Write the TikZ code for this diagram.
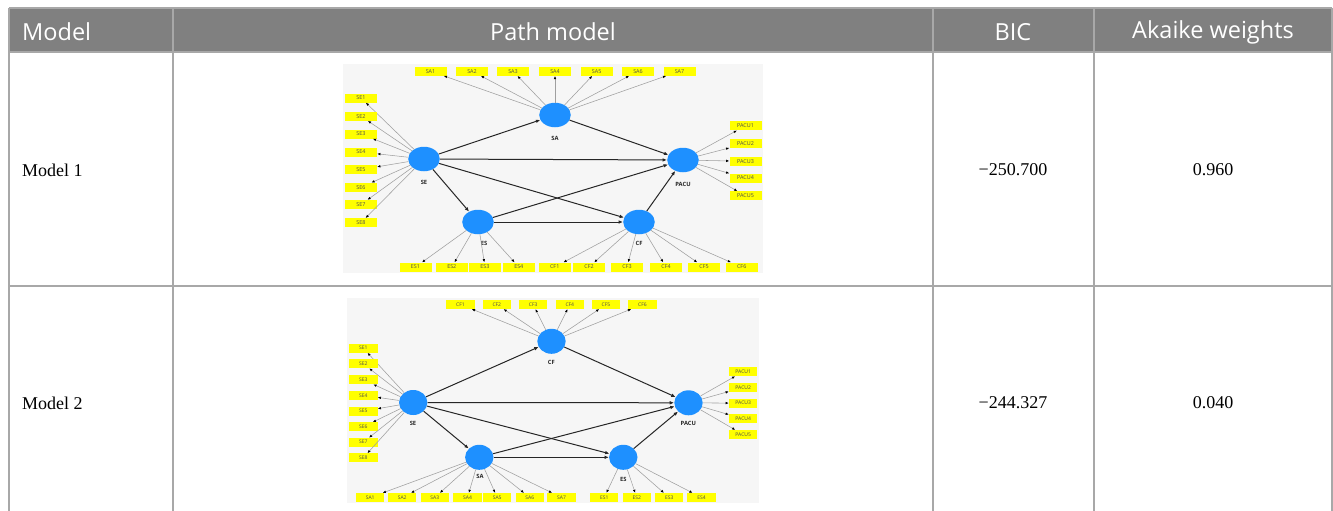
\documentclass[tikz,border=0pt]{standalone}
\usepackage{fontspec}
\setmainfont{Liberation Serif}
\newfontfamily\hdrfont{Open Sans}
\newfontfamily\lblfont{Open Sans}
\usetikzlibrary{arrows.meta,shapes.geometric}
\definecolor{hdrgray}{RGB}{128,128,128}
\definecolor{gridgray}{RGB}{168,168,168}
\definecolor{nodeblue}{RGB}{30,144,255}
\definecolor{bgpanel}{RGB}{246,246,246}
\definecolor{indyellow}{RGB}{255,255,0}
\tikzset{
  hdr/.style={text=white, font=\hdrfont\fontsize{23.5}{23.5}\selectfont, inner sep=0},
  cell/.style={text=black, font=\fontsize{18}{18}\selectfont, inner sep=0},
  lvA/.style={ellipse, fill=nodeblue, minimum width=31.6, minimum height=24.5, inner sep=0},
  lvB/.style={ellipse, fill=nodeblue, minimum width=28.4, minimum height=25, inner sep=0},
  lvlabel/.style={font=\lblfont\bfseries\fontsize{5.8}{5.8}\selectfont, text=black!85, inner sep=0},
  indA/.style={fill=indyellow, minimum width=32, minimum height=9, inner sep=0, font=\lblfont\fontsize{5.4}{5.4}\selectfont, text=black!70},
  indB/.style={fill=indyellow, minimum width=28.4, minimum height=8.8, inner sep=0, font=\lblfont\fontsize{5}{5}\selectfont, text=black!70},
  ld/.style={draw=gray!75, line width=0.55, -{Latex[length=3.2,width=2.6,color=black]}},
  pth/.style={draw=black!85, line width=1.0, -{Latex[length=4.4,width=3.6]}},
}
\begin{document}
\begin{tikzpicture}[x=1pt,y=-1pt]
\useasboundingbox (0,0) rectangle (1333,511);
% ---------- table ----------
\fill[white] (0,0) rectangle (1333,511);
\fill[hdrgray] (9,8) rectangle (1332,52);
\draw[gridgray, line width=1.2] (9,8) -- (1332,8);
\draw[gridgray, line width=1.2] (9,52) -- (1332,52);
\draw[gridgray, line width=1.2] (9,286) -- (1332,286);
\foreach \xx in {9,173,933,1094,1332} {\draw[gridgray, line width=1.2] (\xx,8) -- (\xx,511);}
\node[hdr, anchor=west] (hModel) at (22,32) {Model};
\node[hdr] (hPath) at (553,32) {Path model};
\node[hdr] (hBIC) at (1013,32) {BIC};
\node[hdr] (hAk) at (1213,32) {Akaike weights};
\node[cell, anchor=west] (m1) at (22,170) {Model 1};
\node[cell] (b1) at (1013,170) {−250.700};
\node[cell] (w1) at (1213,170) {0.960};
\node[cell, anchor=west] (m2) at (22,403) {Model 2};
\node[cell] (b2) at (1013,403) {−244.327};
\node[cell] (w2) at (1213,403) {0.040};
% ---------- Model 1 path diagram ----------
\fill[bgpanel] (343,64) rectangle (763,273);
\node[lvA] (aSA) at (555,115) {};
\node[lvA] (aSE) at (424,159) {};
\node[lvA] (aPACU) at (683,160) {};
\node[lvA] (aES) at (478,222) {};
\node[lvA] (aCF) at (639,222) {};
\node[lvlabel] (aSAl) at (555,138) {SA};
\node[lvlabel] (aSEl) at (424,182) {SE};
\node[lvlabel] (aPACUl) at (683,184) {PACU};
\node[lvlabel] (aESl) at (484,243) {ES};
\node[lvlabel] (aCFl) at (639,243) {CF};
\foreach \xx [count=\i] in {430.5,472,513,555,596.7,638,679.5} {
  \node[indA] (aSA\i) at (\xx,71.2) {SA\i};
  \draw[ld] (aSA) -- (aSA\i);}
\foreach \yy [count=\i] in {98,116.2,134,152,169.5,187.3,204.5,222.7} {
  \node[indA] (aSE\i) at (361,\yy) {SE\i};
  \draw[ld] (aSE) -- (aSE\i);}
\foreach \yy [count=\i] in {125.8,143.7,161.3,178,195.8} {
  \node[indA] (aPACU\i) at (745.5,\yy) {PACU\i};
  \draw[ld] (aPACU) -- (aPACU\i);}
\foreach \xx [count=\i] in {415.5,451.8,485,518.8} {
  \node[indA] (aES\i) at (\xx,267) {ES\i};
  \draw[ld] (aES) -- (aES\i);}
\foreach \xx [count=\i] in {554.7,589,627,666,704,741.7} {
  \node[indA] (aCF\i) at (\xx,267) {CF\i};
  \draw[ld] (aCF) -- (aCF\i);}
\draw[pth] (aSE) -- (aSA);
\draw[pth] (aSA) -- (aPACU);
\draw[pth] (aSE) -- (aPACU);
\draw[pth] (aSE) -- (aES);
\draw[pth] (aSE) -- (aCF);
\draw[pth] (aES) -- (aPACU);
\draw[pth] (aES) -- (aCF);
\draw[pth] (aCF) -- (aPACU);
% ---------- Model 2 path diagram ----------
\fill[bgpanel] (347,298) rectangle (759,503);
\node[lvB] (bCF) at (551.5,341.3) {};
\node[lvB] (bSE) at (413.2,402.5) {};
\node[lvB] (bPACU) at (688.5,402.8) {};
\node[lvB] (bSA) at (479.3,457.3) {};
\node[lvB] (bES) at (623.3,457.3) {};
\node[lvlabel] (bCFl) at (551.3,362.7) {CF};
\node[lvlabel] (bSEl) at (413,423.3) {SE};
\node[lvlabel] (bPACUl) at (688.3,423.3) {PACU};
\node[lvlabel] (bSAl) at (480,476.7) {SA};
\node[lvlabel] (bESl) at (623.3,479.3) {ES};
\foreach \xx [count=\i] in {460.5,496.8,533.2,569.8,606,642.5} {
  \node[indB] (bCF\i) at (\xx,304.5) {CF\i};
  \draw[ld] (bCF) -- (bCF\i);}
\foreach \yy [count=\i] in {348.2,363.8,379.8,395.3,411.2,426.7,442.2,457.8} {
  \node[indB] (bSE\i) at (363.3,\yy) {SE\i};
  \draw[ld] (bSE) -- (bSE\i);}
\foreach \yy [count=\i] in {371.7,387.5,403.2,418.8,434.5} {
  \node[indB] (bPACU\i) at (743.2,\yy) {PACU\i};
  \draw[ld] (bPACU) -- (bPACU\i);}
\foreach \xx [count=\i] in {370.2,402.2,434.8,467.5,497.2,529.8,561.5} {
  \node[indB] (bSA\i) at (\xx,497.5) {SA\i};
  \draw[ld] (bSA) -- (bSA\i);}
\foreach \xx [count=\i] in {604.2,636.7,669.2,701.5} {
  \node[indB] (bES\i) at (\xx,497.5) {ES\i};
  \draw[ld] (bES) -- (bES\i);}
\draw[pth] (bSE) -- (bCF);
\draw[pth] (bCF) -- (bPACU);
\draw[pth] (bSE) -- (bPACU);
\draw[pth] (bSE) -- (bSA);
\draw[pth] (bSE) -- (bES);
\draw[pth] (bSA) -- (bPACU);
\draw[pth] (bSA) -- (bES);
\draw[pth] (bES) -- (bPACU);
\end{tikzpicture}
\end{document}
